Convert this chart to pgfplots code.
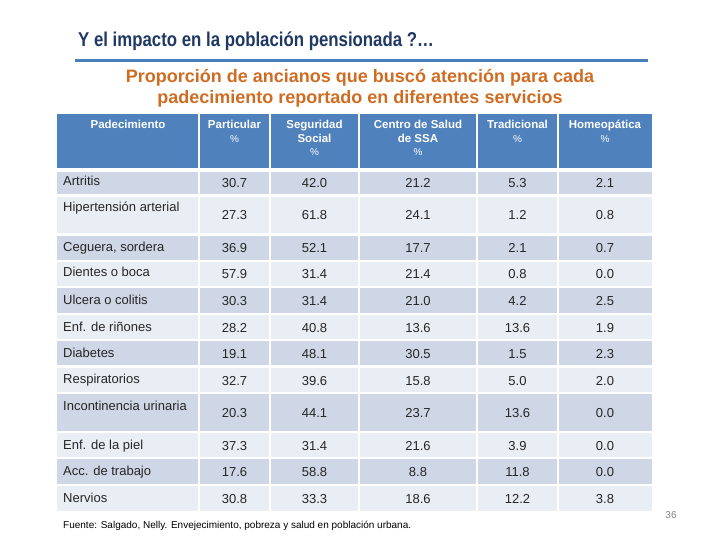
\documentclass[border=0pt]{standalone}
\usepackage{fontspec}
\setmainfont{Liberation Sans}
\newfontfamily\titlefont[FakeStretch=0.84]{Liberation Sans}
\usepackage{pgfplots}
\pgfplotsset{compat=1.18}
\usepackage{pgfplotstable}

\definecolor{hdr}{RGB}{79,129,189}
\definecolor{rowA}{RGB}{207,214,229}
\definecolor{rowB}{RGB}{233,237,244}
\definecolor{ttl}{RGB}{31,56,100}
\definecolor{sub}{RGB}{208,108,34}
\definecolor{txt}{RGB}{38,38,38}
\definecolor{rule}{RGB}{74,126,187}

% baseline y of each row, values per service (%)
\pgfplotstableread{
yb  p    s    c    t    h
188 30.7 42.0 21.2 5.3  2.1
220 27.3 61.8 24.1 1.2  0.8
253 36.9 52.1 17.7 2.1  0.7
279 57.9 31.4 21.4 0.8  0.0
305 30.3 31.4 21.0 4.2  2.5
332 28.2 40.8 13.6 13.6 1.9
358 19.1 48.1 30.5 1.5  2.3
385 32.7 39.6 15.8 5.0  2.0
417 20.3 44.1 23.7 13.6 0.0
450 37.3 31.4 21.6 3.9  0.0
476 17.6 58.8 8.8  11.8 0.0
503 30.8 33.3 18.6 12.2 3.8
}\datatab

\newcommand{\body}{\fontsize{13bp}{15bp}\selectfont}
\newcommand{\hd}{\fontsize{11.5bp}{13.5bp}\selectfont\bfseries}
\newcommand{\pc}{\fontsize{10bp}{12bp}\selectfont}

\begin{document}
\begin{tikzpicture}
\begin{axis}[
  scale only axis, width=720bp, height=540bp,
  xmin=0, xmax=720, ymin=0, ymax=540, y dir=reverse,
  hide axis, clip=false,
  numcol/.style={only marks, mark=none, nodes near coords,
    point meta=explicit,
    nodes near coords={\pgfmathprintnumber[fixed,fixed zerofill,precision=1,assume math mode=true]{\pgfplotspointmeta}},
    every node near coord/.append style={anchor=base, font=\body, text=txt, inner sep=0pt}},
]
\path (axis cs:0,0) rectangle (axis cs:720,540);

% title and rule
\node[anchor=base west, text=ttl, font=\fontsize{20bp}{24bp}\titlefont\bfseries, inner sep=0pt] at (axis cs:78,47) {Y el impacto en la población pensionada ?…};
\draw[rule, line width=3.5bp] (axis cs:75,60.5) -- (axis cs:648,60.5);
\node[anchor=base, text=sub, font=\fontsize{18bp}{21bp}\selectfont\bfseries, inner sep=0pt] at (axis cs:360,83) {Proporción de ancianos que buscó atención para cada};
\node[anchor=base, text=sub, font=\fontsize{18bp}{21bp}\selectfont\bfseries, inner sep=0pt] at (axis cs:360,104) {padecimiento reportado en diferentes servicios};

% table backgrounds
\fill[hdr]  (axis cs:57,114) rectangle (axis cs:652,170);
\fill[rowA] (axis cs:57,170) rectangle (axis cs:652,195.5);
\fill[rowB] (axis cs:57,195.5) rectangle (axis cs:652,234.5);
\fill[rowA] (axis cs:57,234.5) rectangle (axis cs:652,261);
\fill[rowB] (axis cs:57,261) rectangle (axis cs:652,287);
\fill[rowA] (axis cs:57,287) rectangle (axis cs:652,314);
\fill[rowB] (axis cs:57,314) rectangle (axis cs:652,340);
\fill[rowA] (axis cs:57,340) rectangle (axis cs:652,366.5);
\fill[rowB] (axis cs:57,366.5) rectangle (axis cs:652,393);
\fill[rowA] (axis cs:57,393) rectangle (axis cs:652,432);
\fill[rowB] (axis cs:57,432) rectangle (axis cs:652,458);
\fill[rowA] (axis cs:57,458) rectangle (axis cs:652,485);
\fill[rowB] (axis cs:57,485) rectangle (axis cs:652,511);
% white cell borders
\draw[white, line width=3.5bp] (axis cs:57,170) -- (axis cs:652,170);
\draw[white, line width=2.5bp] (axis cs:57,195.5) -- (axis cs:652,195.5);
\draw[white, line width=2.5bp] (axis cs:57,234.5) -- (axis cs:652,234.5);
\draw[white, line width=2.5bp] (axis cs:57,261) -- (axis cs:652,261);
\draw[white, line width=2.5bp] (axis cs:57,287) -- (axis cs:652,287);
\draw[white, line width=2.5bp] (axis cs:57,314) -- (axis cs:652,314);
\draw[white, line width=2.5bp] (axis cs:57,340) -- (axis cs:652,340);
\draw[white, line width=2.5bp] (axis cs:57,366.5) -- (axis cs:652,366.5);
\draw[white, line width=2.5bp] (axis cs:57,393) -- (axis cs:652,393);
\draw[white, line width=2.5bp] (axis cs:57,432) -- (axis cs:652,432);
\draw[white, line width=2.5bp] (axis cs:57,458) -- (axis cs:652,458);
\draw[white, line width=2.5bp] (axis cs:57,485) -- (axis cs:652,485);
\draw[white, line width=2.5bp] (axis cs:199,114) -- (axis cs:199,511);
\draw[white, line width=2.5bp] (axis cs:270,114) -- (axis cs:270,511);
\draw[white, line width=2.5bp] (axis cs:359,114) -- (axis cs:359,511);
\draw[white, line width=2.5bp] (axis cs:477,114) -- (axis cs:477,511);
\draw[white, line width=2.5bp] (axis cs:558,114) -- (axis cs:558,511);

% header text
\node[font=\hd, text=white, inner sep=0pt, anchor=base] at (axis cs:128,129) {Padecimiento};
\node[font=\hd, text=white, inner sep=0pt, anchor=base] at (axis cs:234.5,129) {Particular};
\node[font=\pc, text=white, inner sep=0pt, anchor=base] at (axis cs:234.5,142.5) {\%};
\node[font=\hd, text=white, inner sep=0pt, anchor=base] at (axis cs:314.5,129) {Seguridad};
\node[font=\hd, text=white, inner sep=0pt, anchor=base] at (axis cs:314.5,142.5) {Social};
\node[font=\pc, text=white, inner sep=0pt, anchor=base] at (axis cs:314.5,156) {\%};
\node[font=\hd, text=white, inner sep=0pt, anchor=base] at (axis cs:418,129) {Centro de Salud};
\node[font=\hd, text=white, inner sep=0pt, anchor=base] at (axis cs:418,142.5) {de SSA};
\node[font=\pc, text=white, inner sep=0pt, anchor=base] at (axis cs:418,156) {\%};
\node[font=\hd, text=white, inner sep=0pt, anchor=base] at (axis cs:517.5,129) {Tradicional};
\node[font=\pc, text=white, inner sep=0pt, anchor=base] at (axis cs:517.5,142.5) {\%};
\node[font=\hd, text=white, inner sep=0pt, anchor=base] at (axis cs:605,129) {Homeopática};
\node[font=\pc, text=white, inner sep=0pt, anchor=base] at (axis cs:605,142.5) {\%};

% row labels
\addplot[only marks, mark=none, nodes near coords, point meta=explicit symbolic,
  every node near coord/.append style={anchor=base west, font=\body, text=txt, inner sep=0pt}]
  table[x=x, y=y, meta=lab, col sep=semicolon, row sep=\\] {
x;y;lab\\
63;186;Artritis\\
63;212;Hipertensión arterial\\
63;252;Ceguera, sordera\\
63;277;Dientes o boca\\
63;304;Ulcera o colitis\\
63;331;Enf. de riñones\\
63;357;Diabetes\\
63;383;Respiratorios\\
63;410;Incontinencia urinaria\\
63;449;Enf. de la piel\\
63;475;Acc. de trabajo\\
63;502;Nervios\\
};

% values
\addplot[numcol] table[x expr=234.5, y=yb, meta=p] {\datatab};
\addplot[numcol] table[x expr=314.5, y=yb, meta=s] {\datatab};
\addplot[numcol] table[x expr=418, y=yb, meta=c] {\datatab};
\addplot[numcol] table[x expr=517.5, y=yb, meta=t] {\datatab};
\addplot[numcol] table[x expr=605, y=yb, meta=h] {\datatab};

% footer
\node[anchor=base west, font=\fontsize{10bp}{12bp}\selectfont, text=black, inner sep=0pt] at (axis cs:63,528) {Fuente: Salgado, Nelly. Envejecimiento, pobreza y salud en población urbana.};
\node[anchor=base, font=\fontsize{10bp}{12bp}\selectfont, text=gray, inner sep=0pt] at (axis cs:671,518) {36};
\end{axis}
\end{tikzpicture}
\end{document}
